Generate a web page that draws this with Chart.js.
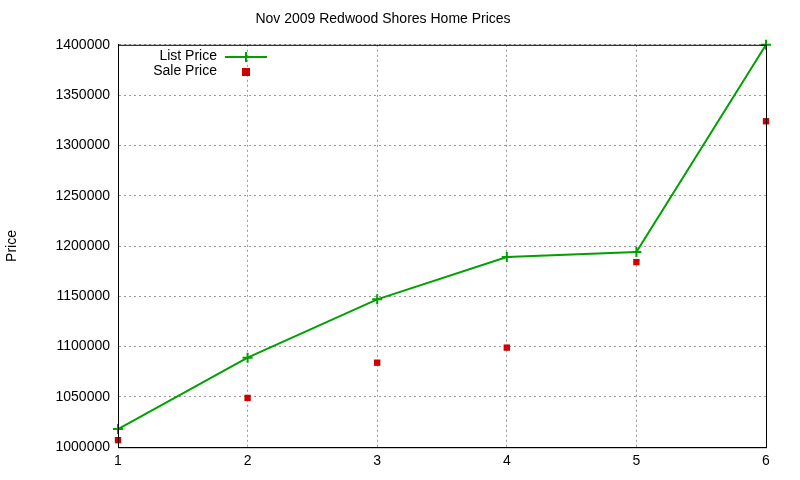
<!DOCTYPE html>
<html><head><script src="https://cdn.jsdelivr.net/npm/chart.js@4/dist/chart.umd.min.js"></script>
<style>body{margin:0;background:#fff}</style></head>
<body><div style="width:800px;height:480px"><canvas id="c"></canvas></div>
<script>
const listX=[1,2,3,4,5,6];
const listPrice=[1018000,1089000,1147000,1189000,1194000,1400000];
const saleX=[1,2,3,4,5,6];
const salePrice=[1007000,1049000,1084000,1099000,1184000,1324000];
const yTicks=[1000000,1050000,1100000,1150000,1200000,1250000,1300000,1350000,1400000];
const font={family:'Liberation Sans, Arial',size:14};
const legendPlugin={id:'lg',afterDraw(ch){const c=ch.ctx;c.save();c.font='14px Liberation Sans, Arial';c.fillStyle='#000';c.textAlign='right';c.textBaseline='middle';
c.fillText(ch.data.datasets[0].label,217,56);c.fillText(ch.data.datasets[1].label,217,71);
c.strokeStyle='#00a000';c.lineWidth=2;c.beginPath();c.moveTo(225,57);c.lineTo(267,57);c.moveTo(246,52);c.lineTo(246,62);c.moveTo(241,57);c.lineTo(251,57);c.stroke();
c.fillStyle='#d00000';c.fillRect(242,68,8,8);c.restore();}};
new Chart(document.getElementById('c'),{type:'scatter',
data:{datasets:[
{label:'List Price',data:listX.map((x,i)=>({x,y:listPrice[i]})),showLine:true,clip:false,borderColor:'#00a000',backgroundColor:'#00a000',borderWidth:2,pointStyle:'cross',pointRadius:5,pointBorderWidth:2},
{label:'Sale Price',data:saleX.map((x,i)=>({x,y:salePrice[i]})),showLine:false,clip:false,backgroundColor:'#d00000',borderColor:'#d00000',pointStyle:'rect',pointRadius:4.5,pointBorderWidth:0}
]},
options:{responsive:true,maintainAspectRatio:false,animation:false,
layout:{padding:{left:0,right:34,top:0,bottom:4}},
plugins:{legend:{display:false},tooltip:{enabled:false},
title:{display:true,text:'Nov 2009 Redwood Shores Home Prices',color:'#000',font:{...font,weight:'normal'},padding:{top:11,bottom:17}}},
scales:{
x:{type:'linear',min:1,max:6,afterBuildTicks:a=>{a.ticks=listX.map(v=>({value:v}))},
grid:{color:'#999',drawTicks:false},border:{color:'#000',width:1,dash:[2,3]},
ticks:{color:'#000',font,padding:6}},
y:{min:1000000,max:1400000,afterBuildTicks:a=>{a.ticks=yTicks.map(v=>({value:v}))},
afterFit:s=>{s.width=118},
title:{display:true,text:'Price',color:'#000',font,padding:{bottom:20}},
grid:{color:'#999',drawTicks:false},border:{color:'#000',width:1,dash:[2,3]},
ticks:{color:'#000',font,padding:8,callback:v=>String(v)}}}},
plugins:[legendPlugin,{id:'box',afterDraw(ch){const a=ch.chartArea,c=ch.ctx;c.save();c.strokeStyle='#000';c.lineWidth=1;c.strokeRect(a.left+.5,a.top+.5,a.right-a.left,a.bottom-a.top);c.restore();}}]
});
</script></body></html>
